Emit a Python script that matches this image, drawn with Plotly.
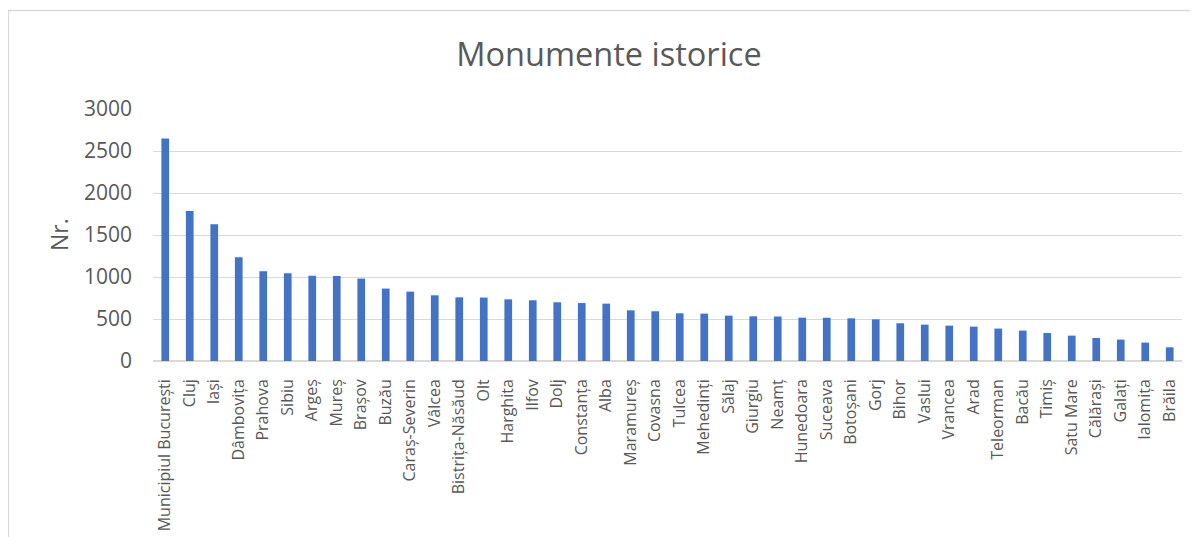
import plotly.graph_objects as go

categories = ["Municipiul București", "Cluj", "Iași", "Dâmbovița", "Prahova", "Sibiu", "Argeș",
              "Mureș", "Brașov", "Buzău", "Caraș-Severin", "Vâlcea", "Bistrița-Năsăud", "Olt",
              "Harghita", "Ilfov", "Dolj", "Constanța", "Alba", "Maramureș", "Covasna", "Tulcea",
              "Mehedinți", "Sălaj", "Giurgiu", "Neamț", "Hunedoara", "Suceava", "Botoșani", "Gorj",
              "Bihor", "Vaslui", "Vrancea", "Arad", "Teleorman", "Bacău", "Timiș", "Satu Mare",
              "Călărași", "Galați", "Ialomița", "Brăila"]
values = [2648, 1787, 1628, 1234, 1068, 1044, 1016, 1012, 981, 862, 826, 782, 758, 755,
          734, 723, 699, 690, 683, 603, 592, 568, 564, 540, 532, 530, 516, 515, 508, 496,
          449, 433, 421, 409, 386, 362, 333, 302, 274, 255, 219, 163]
y_ticks = [0, 500, 1000, 1500, 2000, 2500, 3000]

# page body has an 8px margin; the figure starts at (8, 8) in the window
O = 8
VW, VH = 1198, 537
W, H = VW - O, VH - O
L, R, T, B = 153 - O, VW - 1182, 109 - O, VH - 361
pw = W - L - R
ph = H - T - B

def px_x(x):
    return (x - O - L) / pw

def px_y(y):
    return (H - B - (y - O)) / ph

grey = "#595959"
fig = go.Figure(go.Bar(x=categories, y=values, marker=dict(color="#4472C4", line=dict(width=0))))

fig.update_layout(
    width=W, height=H,
    margin=dict(l=L, r=R, t=T, b=B),
    paper_bgcolor="white", plot_bgcolor="white",
    bargap=0.686,
    showlegend=False,
    font=dict(family="Open Sans", color=grey),
    title=dict(text="Monumente istorice", font=dict(family="Open Sans", size=32.5, color=grey),
               x=px_x(609), xref="paper", xanchor="center",
               y=1 - (55 - O) / H, yref="container", yanchor="middle"),
    xaxis=dict(tickangle=-90, tickfont=dict(size=16, color=grey), showgrid=False,
               showline=False, ticks="", ticklabelstandoff=14, automargin=False),
    yaxis=dict(range=[0, 3000], tickvals=y_ticks, tickfont=dict(size=21, color=grey),
               showgrid=True, gridcolor="#d9d9d9", gridwidth=1.3, zeroline=True,
               zerolinecolor="#d9d9d9", zerolinewidth=1.5, showline=False, ticks="",
               ticklabelstandoff=20, automargin=False),
    annotations=[dict(text="Nr.", x=px_x(59), y=px_y(235), xref="paper", yref="paper",
                      textangle=-90, showarrow=False, font=dict(size=23, color=grey),
                      xanchor="center", yanchor="middle")],
    shapes=[dict(type="rect", xref="paper", yref="paper",
                 x0=px_x(8.5), x1=px_x(1215), y0=px_y(545), y1=px_y(10.5),
                 line=dict(color="#d9d9d9", width=1.3), fillcolor="rgba(0,0,0,0)", layer="below")],
)

fig.write_html("out.html")
